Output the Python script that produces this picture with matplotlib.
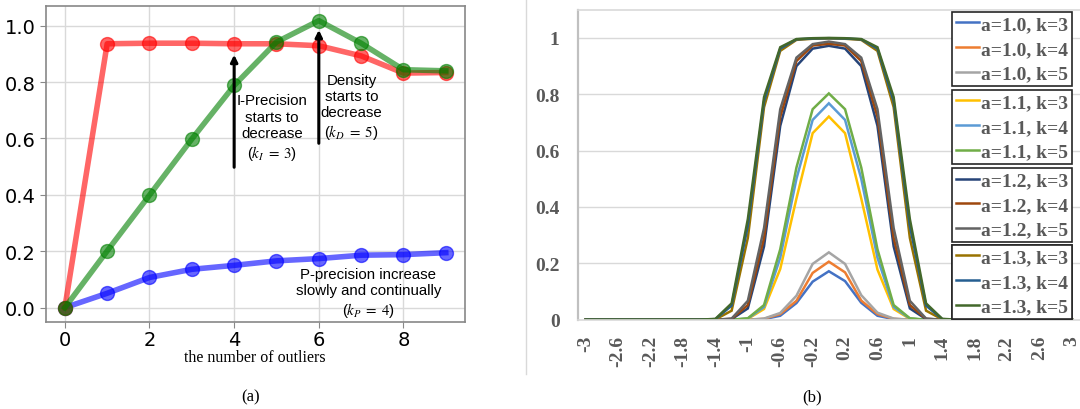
import matplotlib
matplotlib.use('Agg')
import matplotlib.pyplot as plt
from matplotlib.lines import Line2D

# ---------------- panel (a) data ----------------
n_outliers = [0, 1, 2, 3, 4, 5, 6, 7, 8, 9]
i_precision = [0.0, 0.936, 0.938, 0.938, 0.936, 0.936, 0.929, 0.893, 0.832, 0.834]
density = [0.0, 0.201, 0.399, 0.598, 0.788, 0.942, 1.018, 0.938, 0.844, 0.840]
p_precision = [0.0, 0.051, 0.107, 0.136, 0.150, 0.166, 0.174, 0.186, 0.188, 0.195]

# ---------------- panel (b) data ----------------
x_b = [-3.0, -2.8, -2.6, -2.4, -2.2, -2.0, -1.8, -1.6, -1.4, -1.2, -1.0, -0.8, -0.6, -0.4, -0.2,
       0.0, 0.2, 0.4, 0.6, 0.8, 1.0, 1.2, 1.4, 1.6, 1.8, 2.0, 2.2, 2.4, 2.6, 2.8, 3.0]
Z8 = [0, 0, 0, 0, 0, 0, 0, 0]
a10_k3 = Z8 + [0, 0, 0, 0.002, 0.014, 0.059, 0.135, 0.172, 0.137, 0.060, 0.014, 0.002, 0, 0, 0] + Z8
a10_k4 = Z8 + [0, 0, 0, 0.003, 0.020, 0.067, 0.166, 0.206, 0.168, 0.068, 0.020, 0.003, 0, 0, 0] + Z8
a10_k5 = Z8 + [0, 0, 0, 0.004, 0.024, 0.085, 0.198, 0.239, 0.198, 0.087, 0.025, 0.004, 0, 0, 0] + Z8
a11_k3 = Z8 + [0, 0, 0.003, 0.038, 0.180, 0.430, 0.662, 0.721, 0.662, 0.430, 0.178, 0.038, 0.003, 0, 0] + Z8
a11_k4 = Z8 + [0, 0, 0.004, 0.045, 0.220, 0.500, 0.709, 0.768, 0.709, 0.500, 0.220, 0.045, 0.004, 0, 0] + Z8
a11_k5 = Z8 + [0, 0, 0.005, 0.052, 0.250, 0.540, 0.747, 0.803, 0.747, 0.540, 0.250, 0.052, 0.005, 0, 0] + Z8
a12_k3 = Z8 + [0, 0.002, 0.040, 0.260, 0.688, 0.900, 0.962, 0.972, 0.962, 0.900, 0.688, 0.260, 0.040, 0.002, 0] + Z8
a12_k4 = Z8 + [0, 0.003, 0.052, 0.290, 0.720, 0.918, 0.973, 0.979, 0.973, 0.918, 0.720, 0.290, 0.052, 0.003, 0] + Z8
a12_k5 = Z8 + [0, 0.004, 0.067, 0.325, 0.747, 0.930, 0.978, 0.987, 0.978, 0.930, 0.747, 0.325, 0.067, 0.004, 0] + Z8
a13_k3 = Z8 + [0.001, 0.032, 0.290, 0.754, 0.954, 0.993, 0.997, 0.998, 0.997, 0.993, 0.954, 0.754, 0.290, 0.032, 0.001] + Z8
a13_k4 = Z8 + [0.002, 0.050, 0.333, 0.775, 0.962, 0.995, 0.998, 0.999, 0.998, 0.995, 0.962, 0.775, 0.333, 0.050, 0.002] + Z8
a13_k5 = Z8 + [0.003, 0.058, 0.357, 0.790, 0.967, 0.996, 0.999, 1.000, 0.999, 0.996, 0.967, 0.790, 0.357, 0.058, 0.003] + Z8

series_labels = ['a=1.0, k=3', 'a=1.0, k=4', 'a=1.0, k=5',
                 'a=1.1, k=3', 'a=1.1, k=4', 'a=1.1, k=5',
                 'a=1.2, k=3', 'a=1.2, k=4', 'a=1.2, k=5',
                 'a=1.3, k=3', 'a=1.3, k=4', 'a=1.3, k=5']
series_values = [a10_k3, a10_k4, a10_k5, a11_k3, a11_k4, a11_k5,
                 a12_k3, a12_k4, a12_k5, a13_k3, a13_k4, a13_k5]
series_colors = ['#4472C4', '#ED7D31', '#A5A5A5', '#FFC000', '#5B9BD5', '#70AD47',
                 '#264478', '#9E480E', '#636363', '#997300', '#255E91', '#43682B']

plt.rcParams['mathtext.fontset'] = 'stix'

fig = plt.figure(figsize=(10.8, 4.1), dpi=100)

# ================= panel (a) =================
ax1 = fig.add_axes([0.0424, 0.2122, 0.388, 0.770])
ax1.set_axisbelow(True)
ax1.grid(True, color='#d9d9d9', lw=1.0)
ax1.plot(n_outliers, p_precision, color='blue', alpha=0.6, lw=4, marker='o', ms=10)
ax1.plot(n_outliers, i_precision, color='red', alpha=0.6, lw=4, marker='o', ms=10)
ax1.plot(n_outliers, density, color='green', alpha=0.6, lw=4, marker='o', ms=10)
ax1.set_xticks([0, 2, 4, 6, 8])
ax1.set_yticks([0.0, 0.2, 0.4, 0.6, 0.8, 1.0])
ax1.tick_params(labelsize=14, color='#888888', length=4)
ax1.tick_params(axis='x', pad=2)
for sp in ax1.spines.values():
    sp.set_color('#888888')
    sp.set_linewidth(1.2)
ax1.set_xlabel('the number of outliers', family='Liberation Serif', fontsize=11.5, labelpad=0)

arrow_kw = dict(arrowstyle='-|>', color='black', lw=2.2, mutation_scale=10, shrinkA=0, shrinkB=0)
ax1.annotate('', xy=(4, 0.897), xytext=(4, 0.498), arrowprops=arrow_kw)
ax1.annotate('', xy=(6, 0.985), xytext=(6, 0.583), arrowprops=arrow_kw)
ax1.text(4.9, 0.639, 'I-Precision\nstarts to\ndecrease\n($k_I\\;=\\;3$)', ha='center', va='center',
         family='Liberation Sans', fontsize=10.8, linespacing=1.2)
ax1.text(6.77, 0.713, 'Density\nstarts to\ndecrease\n($k_D\\;=\\;5$)', ha='center', va='center',
         family='Liberation Sans', fontsize=10.8, linespacing=1.2)
ax1.text(7.17, 0.051, 'P-precision increase\nslowly and continually\n($k_P\\;=\\;4$)', ha='center',
         va='center', family='Liberation Sans', fontsize=10.8, linespacing=1.2)

# ================= panel (b) =================
ax2 = fig.add_axes([0.5349, 0.2178, 0.4651, 0.756])
ax2.set_axisbelow(True)
idx = list(range(len(x_b)))
lines = []
for lab, vals, col in zip(series_labels, series_values, series_colors):
    ln, = ax2.plot(idx, vals, color=col, lw=1.8, label=lab, solid_joinstyle='miter')
    lines.append(ln)
ax2.set_xlim(-0.5, len(x_b) - 0.5)
ax2.set_ylim(0, 1.1)
ax2.set_yticks([0, 0.2, 0.4, 0.6, 0.8, 1.0])
ax2.set_yticklabels(['0', '0.2', '0.4', '0.6', '0.8', '1'])
ax2.set_xticks(idx[::2])
ax2.set_xticklabels([f'{v:g}' for v in x_b[::2]], rotation=90)
ax2.yaxis.grid(True, color='#d9d9d9', lw=1.0)
ax2.tick_params(length=0, labelsize=14, labelcolor='#595959')
ax2.tick_params(axis='y', pad=13)
ax2.tick_params(axis='x', pad=11)
for t in ax2.get_xticklabels() + ax2.get_yticklabels():
    t.set_family('Liberation Serif')
    t.set_fontweight('bold')
ax2.spines['right'].set_visible(False)
ax2.spines['left'].set_color('#c0c0c0')
ax2.spines['left'].set_linewidth(1.6)
ax2.spines['top'].set_color('#d9d9d9')
ax2.spines['top'].set_linewidth(1.2)
ax2.spines['bottom'].set_color('#d9d9d9')
ax2.spines['bottom'].set_linewidth(1.2)

tops = [0.9935, 0.742, 0.490, 0.242]
for g in range(4):
    leg = ax2.legend(handles=lines[3 * g:3 * g + 3], loc='upper right', bbox_to_anchor=(0.984, tops[g]),
                     borderaxespad=0, fancybox=False, framealpha=1, edgecolor='#262626',
                     prop={'family': 'Liberation Serif', 'weight': 'bold', 'size': 14},
                     labelspacing=0.36, borderpad=0.2, handlelength=1.2, handletextpad=0.1,
                     labelcolor='#595959')
    leg.get_frame().set_linewidth(1.2)
    ax2.add_artist(leg)

# separator and captions
fig.add_artist(Line2D([0.4867, 0.4867], [1.0, 0.0854], color='#d9d9d9', lw=1.0))
fig.text(251 / 1080, 1 - 397 / 410, '(a)', ha='center', va='center', family='Liberation Serif', fontsize=12)
fig.text(812 / 1080, 1 - 397 / 410, '(b)', ha='center', va='center', family='Liberation Serif', fontsize=12)

fig.savefig('out.png', dpi=100)
